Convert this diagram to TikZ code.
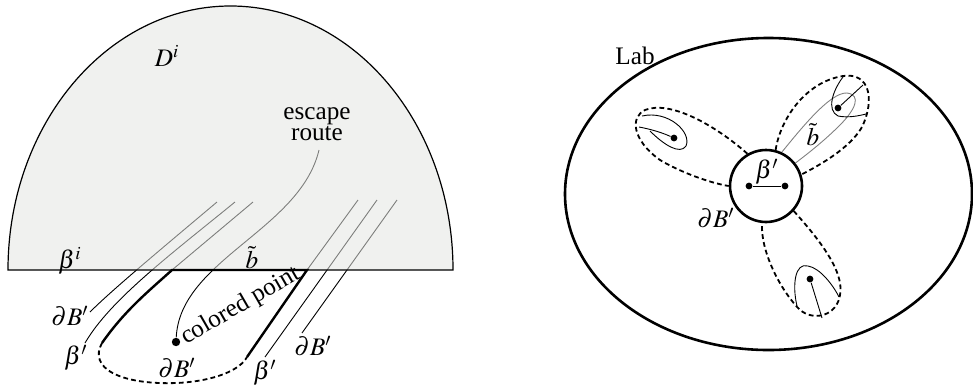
\documentclass[tikz,border=0pt]{standalone}
\usepackage{mathptmx}
\usepackage{fontspec}
\setmainfont{Liberation Serif}
\usetikzlibrary{calc}
\definecolor{diskfill}{RGB}{228,230,226}

\begin{document}
\begin{tikzpicture}[x=0.5pt,y=-0.5pt,
  every node/.style={font=\fontsize{12.6pt}{10.5pt}\selectfont, inner sep=1pt},
  guide/.style={line width=0.45pt},
  bold/.style={line width=1.2pt},
  rim/.style={line width=0.9pt, dash pattern=on 2.4pt off 1.6pt},
  dot/.style={circle, fill, inner sep=0pt, minimum size=3.4pt}]
\useasboundingbox (0,0) rectangle (973,386);

% left: half disk D^i
\node[dot, minimum size=4.2pt] (cp) at (176,342) {};
\draw[guide] (217,202) .. controls (160,250) and (112,290) .. (90,312);
\draw[guide] (235,202) .. controls (170,255) and (110,300) .. (85,343);
\draw[guide] (253,202) -- (172,270);
\draw[guide] (358,200) -- (307,270);
\draw[guide] (377,200) -- (265,357);
\draw[guide] (397,200) -- (302,333);
\draw[guide] (319,150) .. controls (300,230) and (180,260) .. (cp);
\fill[diskfill, opacity=0.55] (8,270) arc[start angle=180, end angle=0, x radius=111.25pt, y radius=132pt] -- cycle;
\draw[line width=0.6pt] (8,270) arc[start angle=180, end angle=0, x radius=111.25pt, y radius=132pt] -- cycle;
\draw[bold] (102,343) .. controls (125,310) and (150,290) .. (172,270) -- (307,270) -- (247,357);
\draw[rim] (102,343) .. controls (88,368) and (120,385) .. (177,383) .. controls (215,381) and (240,370) .. (247,357);

\node at (167,56) {$D^i$};
\node[align=center] at (317,124) {escape\\route};
\node at (70,261) {$\beta^i$};
\node at (252,258) {$\tilde{b}$};
\node at (70,316) {$\partial B'$};
\node at (76,358) {$\beta'$};
\node at (177,368) {$\partial B'$};
\node at (265,373) {$\beta'$};
\node at (313,346) {$\partial B'$};
\node[anchor=base west, rotate=30] at (184,346) {colored point};

% right: the lab with three petals
\draw[line width=1.3pt] (768.5,194) ellipse[x radius=101.75pt, y radius=78pt];
\node at (635,56) {Lab};
\node[circle, draw, line width=1.3pt, minimum size=36pt, inner sep=0pt] (core) at (766,186) {};
\node[dot] (bl) at (749,186) {};
\node[dot] (br) at (785,186) {};
\draw[guide] (bl) -- (br);
\node[anchor=south, inner sep=0.5pt] at ($(bl)!0.5!(br)$) {$\beta'$};
\node at (716,218) {$\partial B'$};

\draw[rim] (core.120) .. controls (715,125) and (670,100) .. (645,110)
  .. controls (630,117) and (632,140) .. (660,160) .. controls (680,172) and (710,183) .. (core.180);
\draw[rim] (core.75) .. controls (780,120) and (805,82) .. (843,76)
  .. controls (870,72) and (875,100) .. (862,127) .. controls (850,148) and (820,165) .. (core.18);
\draw[rim] (core.-42) .. controls (815,235) and (845,270) .. (840,295)
  .. controls (837,315) and (815,322) .. (800,310) .. controls (780,290) and (760,250) .. (core.-96);

\node[dot] (pl) at (674,138) {};
\draw[guide] (639,127) .. controls (655,130) and (665,134) .. (pl);
\draw[guide] (642,116) .. controls (668,110) and (692,132) .. (686,146) .. controls (680,155) and (664,145) .. (650,131);

\node[dot] (pr) at (838,108) {};
\draw[guide, gray] (core.65) .. controls (800,130) and (830,92) .. (847,93)
  .. controls (862,95) and (855,110) .. (840,125) .. controls (825,140) and (810,152) .. (core.38);
\draw[guide] (pr) -- (863,85);
\draw[guide] (843,77) .. controls (833,90) and (826,110) .. (838,116) .. controls (848,118) and (858,116) .. (866,114);
\node at (813,135) {$\tilde{b}$};

\node[dot] (pb) at (810,279) {};
\draw[guide] (pb) -- (822,318);
\draw[guide] (797,306) .. controls (792,285) and (795,262) .. (808,266) .. controls (820,268) and (833,285) .. (839,297);
\end{tikzpicture}
\end{document}
